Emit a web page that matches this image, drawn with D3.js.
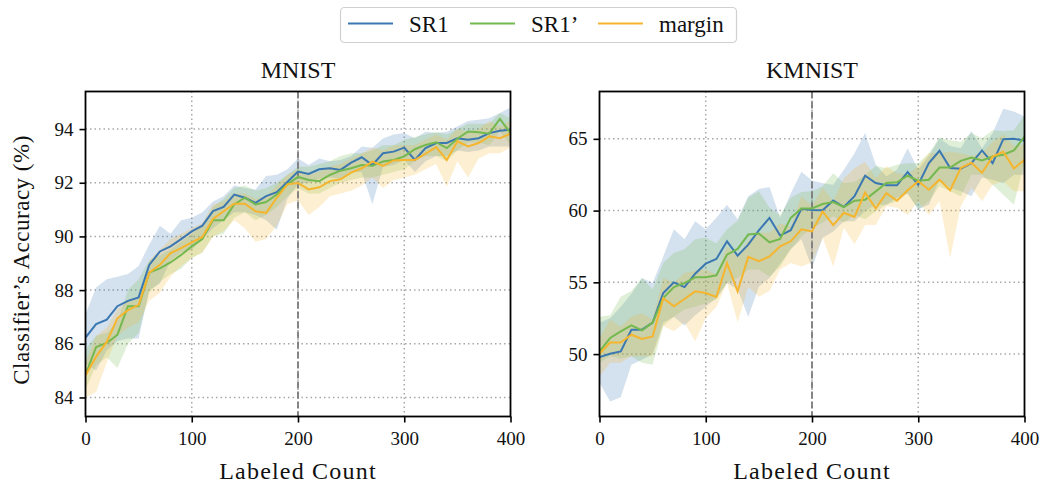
<!DOCTYPE html>
<html><head><meta charset="utf-8">
<script src="https://cdn.jsdelivr.net/npm/d3@7"></script>
<style>html,body{margin:0;padding:0;background:#fff;}svg{display:block;}</style>
</head><body>
<svg id="chart" width="1044" height="484"></svg>
<script>
const labeledCount = [0,10,20,30,40,50,60,70,80,90,100,110,120,130,140,150,160,170,180,190,200,210,220,230,240,250,260,270,280,290,300,310,320,330,340,350,360,370,380,390,400];
const seriesNames = ["SR1", "SR1’", "margin"];
const xTicks = [0,100,200,300,400];
const mnistYTicks = [84,86,88,90,92,94];
const kmnistYTicks = [50,55,60,65];
const panelTitles = ["MNIST", "KMNIST"];

// MNIST
const mnistSR1 = [86.23,86.73,86.9,87.4,87.6,87.73,88.94,89.44,89.63,89.9,90.19,90.4,90.94,91.1,91.56,91.44,91.25,91.5,91.65,92.03,92.42,92.33,92.5,92.54,92.48,92.75,92.95,92.66,93.1,93.16,93.31,92.85,93.29,93.48,93.48,93.66,93.6,93.66,93.85,93.94,93.98];
const mnistSR1Lo = [85.25,85.0,85.75,86.1,86.2,86.2,88.0,88.25,89.1,89.4,89.5,89.9,90.3,90.6,90.9,90.9,90.8,90.6,90.25,91.4,91.95,92.0,92.15,92.2,92.15,92.4,92.4,91.2,92.6,92.66,92.85,92.4,92.8,93.0,93.0,93.2,93.15,93.2,93.35,93.35,93.35];
const mnistSR1Hi = [87.1,88.1,88.4,88.5,88.6,88.9,89.7,90.4,90.1,90.6,90.7,90.9,91.3,91.5,91.9,91.8,91.75,92.25,92.3,92.5,92.9,92.66,92.9,92.8,92.85,93.0,93.35,93.3,93.65,93.8,93.85,93.66,93.9,93.85,93.9,94.1,94.3,94.35,94.4,94.6,94.8];
const mnistSR1p = [84.85,85.88,86.03,86.33,87.4,87.4,88.65,88.81,89.03,89.31,89.63,89.9,90.6,90.6,91.19,91.44,91.19,91.28,91.56,91.94,92.22,92.1,92.06,92.29,92.45,92.54,92.66,92.63,92.79,92.85,92.98,93.25,93.41,93.51,93.29,93.64,93.91,93.88,93.83,94.38,93.85];
const mnistSR1pLo = [84.3,85.2,85.5,85.1,86.0,86.4,87.9,88.3,88.6,88.8,89.2,89.4,90.0,90.1,90.7,90.9,90.6,90.8,91.1,91.5,91.8,91.6,91.6,91.8,92.0,92.1,92.2,92.2,92.3,92.4,92.5,92.8,93.0,93.0,92.8,93.2,93.5,93.5,93.4,93.9,93.4];
const mnistSR1pHi = [85.8,86.3,86.4,86.8,88.0,88.4,89.1,89.3,89.5,89.8,90.1,90.4,91.1,91.4,91.8,91.9,91.7,91.8,92.0,92.3,92.6,92.6,92.7,92.8,93.0,93.1,93.1,93.2,93.4,93.4,93.6,93.7,93.8,93.9,93.8,94.0,94.2,94.2,94.2,94.6,94.4];
const mnistMargin = [84.82,85.52,86.07,86.95,87.25,87.45,88.65,88.94,89.38,89.56,89.78,89.98,90.65,90.94,91.22,91.22,90.94,90.88,91.44,91.94,91.99,91.75,91.83,92.06,92.13,92.38,92.54,92.79,92.63,92.83,92.85,92.85,93.08,93.33,92.85,93.54,93.35,93.48,93.73,93.66,93.83];
const mnistMarginLo = [84.0,84.2,85.3,86.3,86.6,86.8,87.6,87.9,88.5,88.9,89.2,89.4,90.0,90.2,90.6,90.3,89.8,89.9,90.4,91.2,91.35,90.8,91.1,91.5,91.6,91.7,91.9,92.2,91.8,92.1,92.2,92.3,92.5,92.7,91.85,92.8,92.2,92.9,93.1,93.1,93.3];
const mnistMarginHi = [85.3,86.3,86.6,87.3,87.6,87.7,89.1,89.5,89.9,90.1,90.3,90.5,91.2,91.3,91.6,91.6,91.4,91.5,91.9,92.3,92.5,92.3,92.4,92.6,92.7,92.9,93.1,93.3,93.2,93.4,93.4,93.4,93.6,93.8,93.6,94.0,93.9,94.0,94.3,94.1,94.3];

// KMNIST
const kmnistSR1 = [49.79,50.02,50.19,51.7,51.7,52.2,54.26,55.0,54.67,55.6,56.3,56.63,57.86,56.86,57.63,58.63,59.49,58.26,58.63,60.12,60.05,60.02,60.7,60.25,61.0,62.43,61.92,61.76,61.76,62.69,61.81,63.31,64.17,62.96,62.92,63.31,64.19,63.31,64.98,65.0,64.88];
const kmnistSR1Lo = [48.0,46.7,47.0,49.26,49.6,50.0,52.2,52.6,52.0,52.7,53.3,53.9,54.95,54.5,52.6,54.7,55.3,56.3,57.3,58.0,56.0,58.1,58.55,59.25,59.25,59.95,60.4,60.4,60.9,61.2,60.07,60.4,62.15,61.6,61.35,61.0,62.3,62.15,61.9,62.5,62.5];
const kmnistSR1Hi = [52.2,52.5,53.3,54.2,55.3,54.95,56.8,58.7,58.0,59.26,58.7,59.5,60.4,59.4,61.0,61.5,61.65,59.5,61.2,62.7,62.1,61.9,61.8,62.85,64.0,65.4,63.2,62.4,62.85,64.35,62.85,63.8,65.05,64.5,64.35,65.55,64.35,65.4,67.1,66.9,66.55];
const kmnistSR1p = [50.19,51.12,51.58,52.0,51.65,52.2,53.9,54.67,54.95,55.35,55.35,55.49,56.93,57.33,58.33,58.4,57.79,58.02,59.49,60.14,60.15,60.46,60.6,60.25,60.69,60.76,61.34,61.92,61.97,62.43,62.08,62.15,63.0,63.0,63.47,63.7,63.5,63.77,63.89,64.19,65.16];
const kmnistSR1pLo = [49.4,49.85,49.7,49.85,49.4,49.25,51.95,52.6,53.1,53.3,53.55,53.8,54.95,55.3,55.9,55.9,55.4,56.1,57.3,58.2,58.8,59.15,59.6,59.15,59.7,59.4,59.95,60.4,60.65,61.2,60.07,60.65,61.7,61.35,61.0,62.5,62.5,61.8,61.1,60.4,63.4];
const kmnistSR1pHi = [52.6,52.7,54.0,54.4,55.3,54.5,56.35,57.05,57.3,58.0,58.1,57.7,58.7,59.3,60.9,61.35,60.2,59.7,60.9,61.3,61.35,61.7,62.6,61.9,62.0,62.5,63.1,62.95,63.2,63.3,63.3,64.0,65.1,64.9,64.8,65.4,65.05,65.6,65.55,65.6,66.65];
const kmnistMargin = [50.02,50.81,50.81,51.35,51.05,51.23,53.9,53.33,53.84,54.37,54.26,53.98,56.35,54.37,56.77,56.47,56.81,57.51,57.86,58.7,58.55,59.94,58.99,59.85,59.56,61.25,60.15,61.22,60.69,61.42,62.04,61.45,62.15,61.42,62.97,63.33,62.64,63.76,64.1,62.94,63.54];
const kmnistMarginLo = [48.45,49.4,49.4,49.85,49.85,49.85,51.95,51.6,52.2,50.9,52.5,53.3,54.95,52.2,54.7,54.0,54.4,55.9,56.35,56.1,56.4,58.1,56.1,58.8,57.65,59.0,59.0,60.3,60.2,59.7,60.65,59.7,60.65,56.7,60.3,61.6,60.65,61.8,62.05,61.35,61.35];
const kmnistMarginHi = [51.1,52.4,51.9,52.6,52.85,52.4,55.3,54.95,55.65,55.8,55.9,55.55,57.5,56.8,57.9,58.45,58.45,59.1,58.9,61.0,60.3,61.6,60.65,62.25,62.95,63.4,62.25,63.1,62.6,62.5,63.1,64.0,64.0,64.1,64.0,63.8,64.0,64.8,65.3,64.5,64.6];

const colors = ["#3b78b1", "#74b94f", "#f5b52e"];
const FONT = "'Liberation Serif', 'Times New Roman', serif";

const svg = d3.select("#chart");

const panels = [
  { title: panelTitles[0], left: 85.5, right: 510.5, yDomain: [83.29, 95.4], yTicks: mnistYTicks,
    series: [[mnistSR1, mnistSR1Lo, mnistSR1Hi],[mnistSR1p, mnistSR1pLo, mnistSR1pHi],[mnistMargin, mnistMarginLo, mnistMarginHi]] },
  { title: panelTitles[1], left: 599.5, right: 1024.5, yDomain: [45.65, 68.3], yTicks: kmnistYTicks,
    series: [[kmnistSR1, kmnistSR1Lo, kmnistSR1Hi],[kmnistSR1p, kmnistSR1pLo, kmnistSR1pHi],[kmnistMargin, kmnistMarginLo, kmnistMarginHi]] }
];
const plotTop = 91.5, plotBottom = 416.5;

panels.forEach((p, pi) => {
  const x = d3.scaleLinear().domain([0, 400]).range([p.left, p.right]);
  const y = d3.scaleLinear().domain(p.yDomain).range([plotBottom, plotTop]);
  const g = svg.append("g");
  const clipId = "clip" + pi;
  svg.append("clipPath").attr("id", clipId).append("rect")
    .attr("x", p.left).attr("y", plotTop).attr("width", p.right - p.left).attr("height", plotBottom - plotTop);

  const grid = g.append("g");
  xTicks.filter(t => t > 0 && t < 400).forEach(t => {
    grid.append("line").attr("x1", x(t)).attr("x2", x(t)).attr("y1", plotTop).attr("y2", plotBottom)
      .attr("stroke", "#a8a8a8").attr("stroke-width", 1.5).attr("stroke-dasharray", "1.5,3");
  });
  p.yTicks.forEach(t => {
    grid.append("line").attr("x1", p.left).attr("x2", p.right).attr("y1", y(t)).attr("y2", y(t))
      .attr("stroke", "#a8a8a8").attr("stroke-width", 1.5).attr("stroke-dasharray", "1.5,3");
  });

  const data = p.series;
  const plot = g.append("g").attr("clip-path", `url(#${clipId})`);
  data.forEach((s, si) => {
    const pts = labeledCount.map((c, i) => ({ c, m: s[0][i], lo: s[1][i], hi: s[2][i] }));
    plot.append("path").datum(pts)
      .attr("d", d3.area().x(d => x(d.c)).y0(d => y(d.lo)).y1(d => y(d.hi)))
      .attr("fill", colors[si]).attr("fill-opacity", 0.22).attr("stroke", "none");
  });
  plot.append("line").attr("x1", x(200)).attr("x2", x(200)).attr("y1", plotTop).attr("y2", plotBottom)
    .attr("stroke", "#7a7a7a").attr("stroke-width", 1.8).attr("stroke-dasharray", "7,3");
  data.forEach((s, si) => {
    const pts = labeledCount.map((c, i) => ({ c, m: s[0][i] }));
    plot.append("path").datum(pts)
      .attr("d", d3.line().x(d => x(d.c)).y(d => y(d.m)))
      .attr("fill", "none").attr("stroke", colors[si]).attr("stroke-width", 2).attr("stroke-linejoin", "miter");
  });

  const xAxis = d3.axisBottom(x).tickValues(xTicks).tickSize(6).tickPadding(6).tickFormat(d3.format("d"));
  const yAxis = d3.axisLeft(y).tickValues(p.yTicks).tickSize(6).tickPadding(6).tickFormat(d3.format("d"));
  const gx = g.append("g").attr("transform", `translate(0,${plotBottom})`).call(xAxis);
  const gy = g.append("g").attr("transform", `translate(${p.left},0)`).call(yAxis);
  [gx, gy].forEach(ax => {
    ax.select(".domain").remove();
    ax.selectAll(".tick line").attr("stroke", "#000").attr("stroke-width", 1.6);
    ax.selectAll(".tick text").attr("font-family", FONT).attr("font-size", 19).attr("fill", "#111");
  });
  gx.selectAll(".tick text").attr("dy", "0.85em");
  g.append("rect").attr("x", p.left).attr("y", plotTop).attr("width", p.right - p.left).attr("height", plotBottom - plotTop)
    .attr("fill", "none").attr("stroke", "#000").attr("stroke-width", 1.8);

  g.append("text").attr("x", (p.left + p.right) / 2).attr("y", 78).attr("text-anchor", "middle")
    .attr("font-family", FONT).attr("font-size", 24).attr("fill", "#111").text(p.title);
  g.append("text").attr("x", (p.left + p.right) / 2).attr("y", 479).attr("text-anchor", "middle")
    .attr("font-family", FONT).attr("font-size", 24).attr("letter-spacing", 1.2).attr("fill", "#111").text("Labeled Count");
});

svg.append("text").attr("transform", "translate(29,260) rotate(-90)").attr("text-anchor", "middle")
  .attr("font-family", FONT).attr("font-size", 23).attr("letter-spacing", 0.5).attr("fill", "#111")
  .text("Classifier’s Accuracy (%)");

const lg = svg.append("g");
lg.append("rect").attr("x", 340.5).attr("y", 7.5).attr("width", 396).attr("height", 35).attr("rx", 4)
  .attr("fill", "#fff").attr("stroke", "#d0d0d0").attr("stroke-width", 1.2);
const legendLineX = [348, 470, 598];
const legendTextX = [409, 531, 659];
seriesNames.forEach((n, i) => {
  lg.append("line").attr("x1", legendLineX[i]).attr("x2", legendLineX[i] + 45).attr("y1", 23.5).attr("y2", 23.5)
    .attr("stroke", colors[i]).attr("stroke-width", 2);
  lg.append("text").attr("x", legendTextX[i]).attr("y", 32).attr("font-family", FONT).attr("font-size", 23)
    .attr("fill", "#111").text(n);
});
</script>
</body></html>
